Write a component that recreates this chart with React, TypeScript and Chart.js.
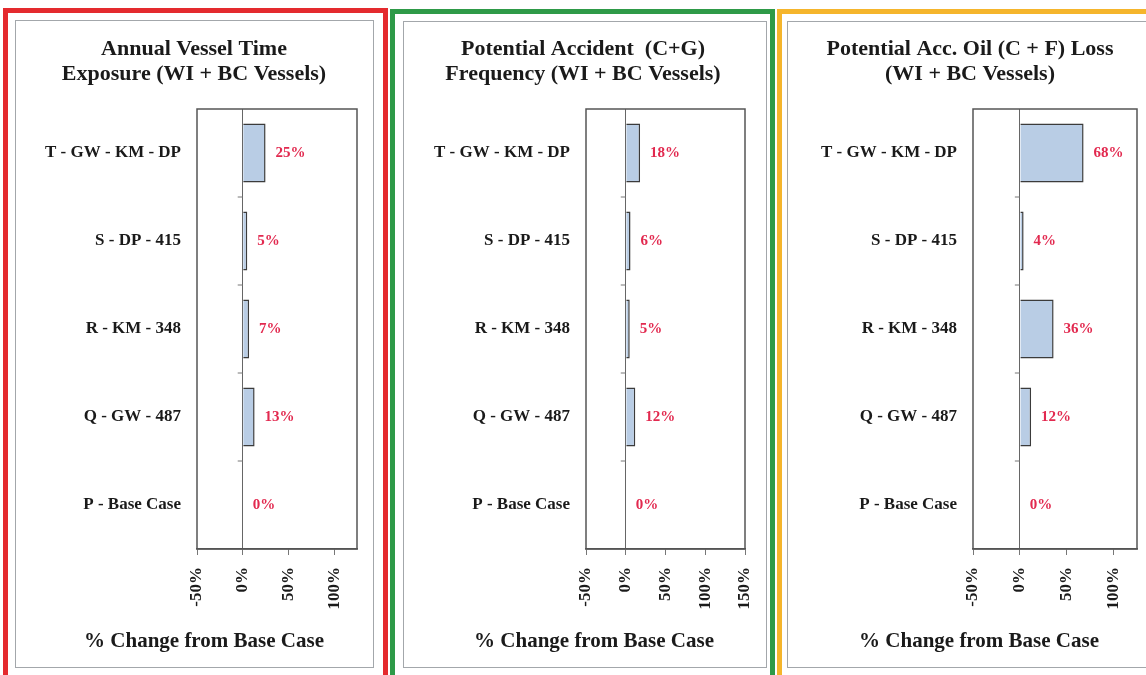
import React, { useEffect, useRef } from 'react';
import { Chart, registerables } from 'chart.js';
Chart.register(...registerables);

const categories = ['T - GW - KM - DP', 'S - DP - 415', 'R - KM - 348', 'Q - GW - 487', 'P - Base Case'];
const exposureValues = [25, 5, 7, 13, 0];
const frequencyValues = [18, 6, 5, 12, 0];
const oilLossValues = [68, 4, 36, 12, 0];
const exposureTitle = ['Annual Vessel Time', 'Exposure (WI + BC Vessels)'];
const frequencyTitle = ['Potential Accident  (C+G)', 'Frequency (WI + BC Vessels)'];
const oilLossTitle = ['Potential Acc. Oil (C + F) Loss', '(WI + BC Vessels)'];
const axisTitle = '% Change from Base Case';
const tickStep = 50;
const exposureRange = [-50, 125];
const frequencyRange = [-50, 150];
const oilLossRange = [-50, 125];

const SERIF = '"Liberation Serif", "Times New Roman", serif';
const TEXT = '#1a1a1a';

const framePlugin = {
  id: 'frame',
  afterDraw(chart: any) {
    const { ctx, chartArea } = chart;
    const xs = chart.scales.x;
    const ys = chart.scales.y;
    ctx.save();
    ctx.strokeStyle = '#555';
    ctx.lineWidth = 1.5;
    ctx.strokeRect(chartArea.left, chartArea.top, chartArea.right - chartArea.left, chartArea.bottom - chartArea.top);
    const x0 = xs.getPixelForValue(0);
    ctx.strokeStyle = '#777';
    ctx.lineWidth = 1;
    for (let i = 1; i < categories.length; i++) {
      const y = (ys.getPixelForValue(i - 1) + ys.getPixelForValue(i)) / 2;
      ctx.beginPath();
      ctx.moveTo(x0 - 5, y);
      ctx.lineTo(x0, y);
      ctx.stroke();
    }
    ctx.restore();
  },
};

const valueLabelPlugin = {
  id: 'valueLabels',
  afterDatasetsDraw(chart: any) {
    const meta = chart.getDatasetMeta(0);
    const ctx = chart.ctx;
    ctx.save();
    ctx.font = 'bold 15px ' + SERIF;
    ctx.fillStyle = '#e2294f';
    ctx.textAlign = 'left';
    ctx.textBaseline = 'middle';
    meta.data.forEach((el: any, i: number) => {
      const v = chart.data.datasets[0].data[i];
      ctx.fillText(v + '%', el.x + 10, el.y);
    });
    ctx.restore();
  },
};

const textPlugin = {
  id: 'panelText',
  afterDraw(chart: any, _args: any, opts: any) {
    const ctx = chart.ctx;
    ctx.save();
    ctx.fillStyle = TEXT;
    ctx.textAlign = 'center';
    ctx.textBaseline = 'alphabetic';
    ctx.font = 'bold 22px ' + SERIF;
    opts.lines.forEach((line: string, i: number) => {
      ctx.fillText(line, opts.titleX, opts.titleY[i]);
    });
    ctx.font = 'bold 21px ' + SERIF;
    ctx.fillText(axisTitle, opts.axisX, opts.axisY);
    ctx.restore();
  },
};

type PanelProps = {
  values: number[];
  title: string[];
  range: number[];
  left: number;
  top: number;
  width: number;
  height: number;
  yWidth: number;
  padRight: number;
  xHeight: number;
  titleX: number;
  axisX: number;
};

function Panel(p: PanelProps) {
  const ref = useRef<HTMLCanvasElement>(null);
  useEffect(() => {
    if (!ref.current) return;
    const chart = new Chart(ref.current, {
      type: 'bar',
      data: {
        labels: categories,
        datasets: [
          {
            data: p.values,
            backgroundColor: '#b9cde5',
            borderColor: '#3b3b3b',
            borderWidth: 1.5,
            barPercentage: 0.67,
            categoryPercentage: 1,
          },
        ],
      },
      options: {
        indexAxis: 'y',
        responsive: false,
        maintainAspectRatio: false,
        animation: false,
        layout: { padding: { left: 0, right: p.padRight, top: 109 - p.top, bottom: 0 } },
        plugins: {
          legend: { display: false },
          tooltip: { enabled: false },
          title: { display: false },
          panelText: {
            lines: p.title,
            titleX: p.titleX - p.left,
            titleY: [55 - p.top, 80 - p.top],
            axisX: p.axisX - p.left,
            axisY: 647 - p.top,
          },
        },
        scales: {
          x: {
            min: p.range[0],
            max: p.range[1],
            afterBuildTicks: (s: any) => {
              s.ticks = s.ticks.filter((t: any) => t.value % tickStep === 0);
            },
            afterFit: (s: any) => {
              s.height = p.xHeight;
              s.paddingLeft = 0;
              s.paddingRight = 0;
            },
            ticks: {
              stepSize: tickStep,
              minRotation: 90,
              maxRotation: 90,
              padding: 12,
              color: TEXT,
              font: { family: SERIF, size: 17, weight: 'bold' },
              callback: (v: any) => v + '%',
            },
            grid: {
              color: (ctx: any) => (ctx.tick && ctx.tick.value === 0 ? '#666' : 'rgba(0,0,0,0)'),
              tickColor: '#777',
              tickLength: 6,
              lineWidth: 1,
            },
            border: { display: true, color: '#555', width: 1.5 },
            title: { display: false },
          },
          y: {
            afterFit: (s: any) => {
              s.width = p.yWidth;
              s.paddingTop = 0;
              s.paddingBottom = 0;
            },
            ticks: {
              padding: 16,
              color: TEXT,
              font: { family: SERIF, size: 17, weight: 'bold' },
            },
            grid: { display: false, drawTicks: false },
            border: { display: false },
          },
        },
      } as any,
      plugins: [framePlugin, valueLabelPlugin, textPlugin],
    });
    return () => chart.destroy();
  }, []);
  return (
    <canvas
      ref={ref}
      width={p.width}
      height={p.height}
      style={{ position: 'absolute', left: p.left, top: p.top, width: p.width, height: p.height }}
    />
  );
}

function Box(props: { left: number; top: number; width: number; height: number; border: string }) {
  return (
    <div
      style={{
        position: 'absolute',
        left: props.left,
        top: props.top,
        width: props.width,
        height: props.height,
        border: props.border,
        boxSizing: 'border-box',
      }}
    />
  );
}

export default function App() {
  return (
    <div
      style={{
        position: 'fixed',
        left: 0,
        top: 0,
        width: 1146,
        height: 675,
        overflow: 'hidden',
        background: '#fff',
      }}
    >
      <Box left={3} top={8} width={385} height={675} border="5px solid #e42a2e" />
      <Box left={390} top={9} width={385} height={675} border="5px solid #2e9a48" />
      <Box left={777} top={9} width={380} height={675} border="5px solid #f5b52c" />
      <Box left={15} top={20} width={359} height={648} border="1.5px solid #a3a7ab" />
      <Box left={403} top={21} width={364} height={647} border="1.5px solid #a3a7ab" />
      <Box left={787} top={21} width={370} height={647} border="1.5px solid #a3a7ab" />
      <Panel values={exposureValues} title={exposureTitle} range={exposureRange}
        left={16} top={21} width={357} height={646} yWidth={181} padRight={16} xHeight={118}
        titleX={194} axisX={204} />
      <Panel values={frequencyValues} title={frequencyTitle} range={frequencyRange}
        left={404} top={22} width={362} height={645} yWidth={182} padRight={21} xHeight={118}
        titleX={583} axisX={594} />
      <Panel values={oilLossValues} title={oilLossTitle} range={oilLossRange}
        left={788} top={22} width={358} height={645} yWidth={185} padRight={9} xHeight={118}
        titleX={970} axisX={979} />
    </div>
  );
}
